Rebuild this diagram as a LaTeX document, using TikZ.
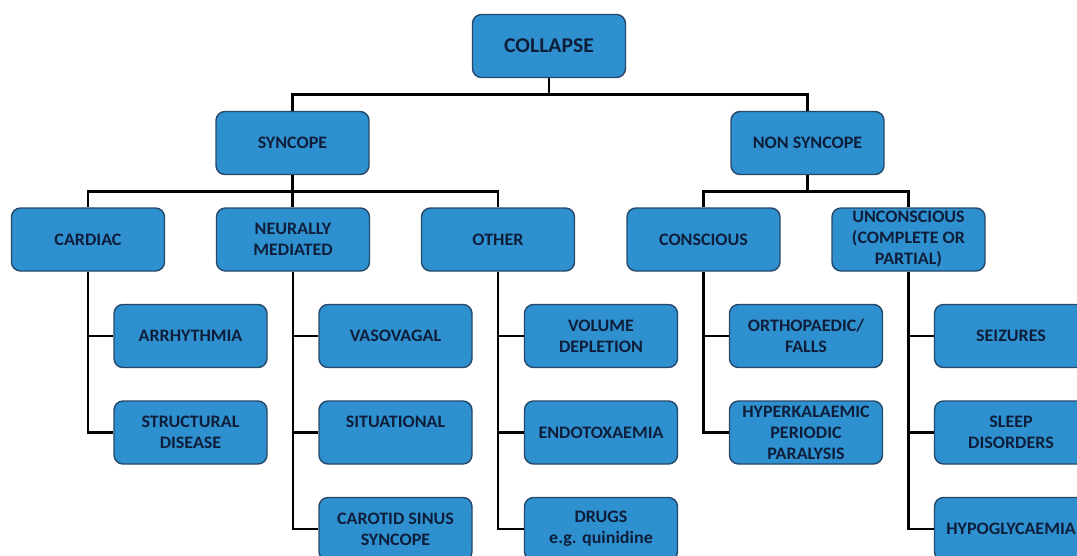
\documentclass[tikz,border=0pt]{standalone}
\usepackage{fontspec}
\setmainfont{Carlito}[FakeStretch=1.03]
\definecolor{boxfill}{RGB}{46,144,206}
\definecolor{boxline}{RGB}{38,72,105}
\definecolor{boxtext}{RGB}{14,30,58}
\tikzset{
  box/.style={rectangle, rounded corners=9pt, draw=boxline, line width=1.4pt,
    fill=boxfill, minimum width=153pt, minimum height=63pt, inner sep=2pt,
    align=center, text=boxtext, font=\bfseries\fontsize{17.5}{21}\selectfont},
  bigbox/.style={box, font=\bfseries\fontsize{21}{24}\selectfont},
  conn/.style={draw=black, line width=2.8pt}
}
\begin{document}
\begin{tikzpicture}[x=1pt,y=-1pt]
\useasboundingbox (0,0) rectangle (1077,555);
\fill[white] (0,0) rectangle (1077,555);
\clip (0,0) rectangle (1077,555);
% nodes
\node[bigbox] (collapse) at (549,46) {COLLAPSE};
\node[box] (syncope) at (292.5,143) {SYNCOPE};
\node[box] (nonsyn) at (807.5,143) {NON SYNCOPE};
\node[box] (cardiac) at (88,239.5) {CARDIAC};
\node[box] (neural) at (293,239.5) {NEURALLY\\MEDIATED};
\node[box] (other) at (498,239.5) {OTHER};
\node[box] (conscious) at (703.5,239.5) {CONSCIOUS};
\node[box] (uncon) at (908.5,239.5) {UNCONSCIOUS\\(COMPLETE OR\\PARTIAL)};
\node[box] (arrh) at (190.5,336) {ARRHYTHMIA};
\node[box] (struct) at (190.5,432.5) {STRUCTURAL\\DISEASE};
\node[box] (vaso) at (395.5,336) {VASOVAGAL};
\node[box] (situ) at (395.5,432.5) {SITUATIONAL\\\mbox{}};
\node[box] (carotid) at (395.5,529) {CAROTID SINUS\\SYNCOPE};
\node[box] (volume) at (601,336) {VOLUME\\DEPLETION};
\node[box] (endo) at (601,432.5) {ENDOTOXAEMIA};
\node[box] (drugs) at (601,529) {DRUGS\\e.g. quinidine};
\node[box] (ortho) at (806,336) {ORTHOPAEDIC/\\FALLS};
\node[box] (hyperk) at (806,432.5) {HYPERKALAEMIC\\PERIODIC\\PARALYSIS};
\node[box] (seiz) at (1011,336) {SEIZURES};
\node[box] (sleep) at (1011,432.5) {SLEEP\\DISORDERS};
\node[box] (hypo) at (1011,529) {HYPOGLYCAEMIA};
% connectors
\draw[conn] (collapse.south) -- ++(0,16) -| (syncope.north);
\draw[conn] (collapse.south) -- ++(0,16) -| (nonsyn.north);
\draw[conn] (syncope.south) -- (syncope.south |- neural.north);
\draw[conn] (syncope.south) -- ++(0,16) -| (cardiac.north);
\draw[conn] (syncope.south) -- ++(0,16) -| (other.north);
\draw[conn] (nonsyn.south) -- ++(0,16) -| (conscious.north);
\draw[conn] (nonsyn.south) -- ++(0,16) -| (uncon.north);
\draw[conn] (cardiac.south) |- (arrh.west);
\draw[conn] (cardiac.south) |- (struct.west);
\draw[conn] (neural.south) |- (vaso.west);
\draw[conn] (neural.south) |- (situ.west);
\draw[conn] (neural.south) |- (carotid.west);
\draw[conn] (other.south) |- (volume.west);
\draw[conn] (other.south) |- (endo.west);
\draw[conn] (other.south) |- (drugs.west);
\draw[conn] (conscious.south) |- (ortho.west);
\draw[conn] (conscious.south) |- (hyperk.west);
\draw[conn] (uncon.south) |- (seiz.west);
\draw[conn] (uncon.south) |- (sleep.west);
\draw[conn] (uncon.south) |- (hypo.west);
\end{tikzpicture}
\end{document}
